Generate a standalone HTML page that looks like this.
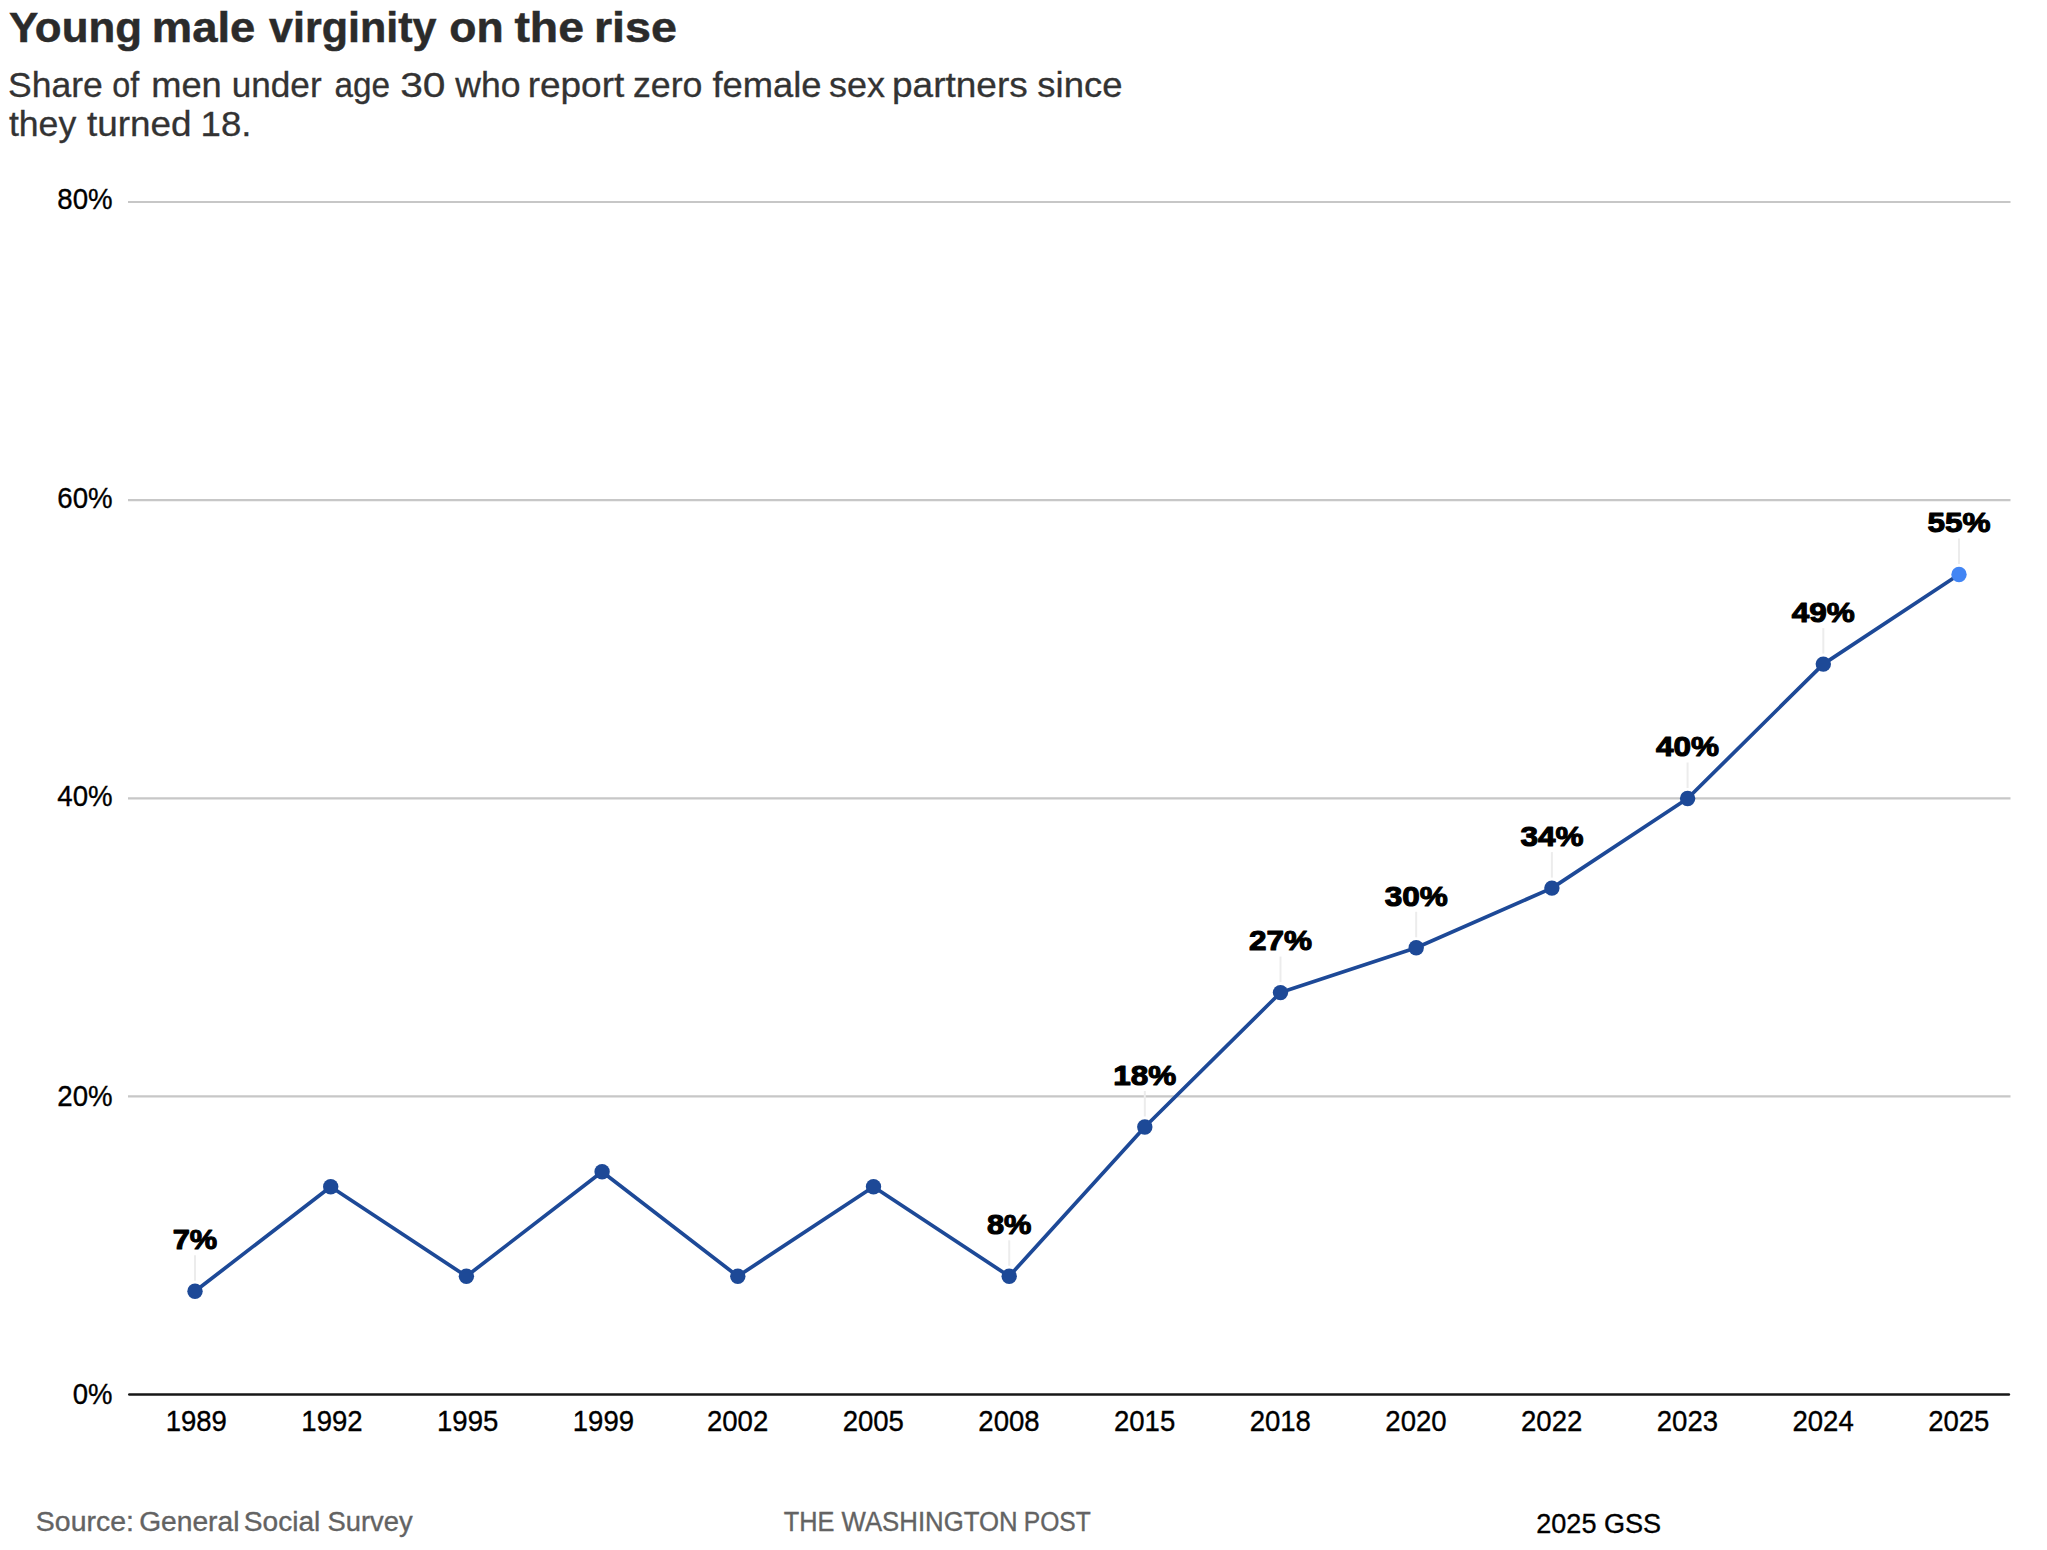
<!DOCTYPE html>
<html lang="en"><head><meta charset="utf-8"><title>Young male virginity on the rise</title>
<style>
html,body{margin:0;padding:0;background:#fff;}
body{width:2047px;height:1550px;overflow:hidden;font-family:"Liberation Sans",sans-serif;}
svg{display:block;position:absolute;left:0;top:0;}
text{font-family:"Liberation Sans",sans-serif;}
.title{font-weight:700;font-size:43px;fill:#2b2b2b;stroke:#2b2b2b;stroke-width:0.5px;}
.sub{font-size:35px;fill:#333;stroke:#333;stroke-width:0.3px;}
.ax{font-size:29.3px;fill:#000;stroke:#000;stroke-width:0.35px;}
.lab{font-weight:700;font-size:28.3px;fill:#000;stroke:#000;stroke-width:1.1px;stroke-linejoin:round;}
.foot{font-size:27px;fill:#636363;stroke:#636363;stroke-width:0.35px;}
</style></head><body>
<svg width="2047" height="1550" viewBox="0 0 2047 1550">
<rect width="2047" height="1550" fill="#fff"/>
<text class="title" y="41.9"><tspan x="8.90" textLength="133.06" lengthAdjust="spacingAndGlyphs">Young</tspan> <tspan x="151.88" textLength="103.50" lengthAdjust="spacingAndGlyphs">male</tspan> <tspan x="269.02" textLength="167.46" lengthAdjust="spacingAndGlyphs">virginity</tspan> <tspan x="449.28" textLength="54.40" lengthAdjust="spacingAndGlyphs">on</tspan> <tspan x="514.40" textLength="69.60" lengthAdjust="spacingAndGlyphs">the</tspan> <tspan x="593.98" textLength="83.02" lengthAdjust="spacingAndGlyphs">rise</tspan></text>
<text class="sub" y="97.4"><tspan x="8.00" textLength="94.78" lengthAdjust="spacingAndGlyphs">Share</tspan> <tspan x="112.28" textLength="26.98" lengthAdjust="spacingAndGlyphs">of</tspan> <tspan x="151.16" textLength="70.68" lengthAdjust="spacingAndGlyphs">men</tspan> <tspan x="231.72" textLength="89.88" lengthAdjust="spacingAndGlyphs">under</tspan> <tspan x="334.56" textLength="55.60" lengthAdjust="spacingAndGlyphs">age</tspan> <tspan x="400.16" textLength="45.34" lengthAdjust="spacingAndGlyphs">30</tspan> <tspan x="455.30" textLength="65.26" lengthAdjust="spacingAndGlyphs">who</tspan> <tspan x="527.66" textLength="96.60" lengthAdjust="spacingAndGlyphs">report</tspan> <tspan x="633.00" textLength="69.50" lengthAdjust="spacingAndGlyphs">zero</tspan> <tspan x="712.40" textLength="109.16" lengthAdjust="spacingAndGlyphs">female</tspan> <tspan x="829.00" textLength="55.94" lengthAdjust="spacingAndGlyphs">sex</tspan> <tspan x="892.04" textLength="135.68" lengthAdjust="spacingAndGlyphs">partners</tspan> <tspan x="1037.34" textLength="85.16" lengthAdjust="spacingAndGlyphs">since</tspan></text>
<text class="sub" y="135.8"><tspan x="8.90" textLength="67.36" lengthAdjust="spacingAndGlyphs">they</tspan> <tspan x="86.96" textLength="104.72" lengthAdjust="spacingAndGlyphs">turned</tspan> <tspan x="200.60" textLength="50.92" lengthAdjust="spacingAndGlyphs">18.</tspan></text>
<line x1="128" x2="2010.5" y1="202.00" y2="202.00" stroke="#c7c7c7" stroke-width="2.2"/>
<line x1="128" x2="2010.5" y1="500.15" y2="500.15" stroke="#c7c7c7" stroke-width="2.2"/>
<line x1="128" x2="2010.5" y1="798.30" y2="798.30" stroke="#c7c7c7" stroke-width="2.2"/>
<line x1="128" x2="2010.5" y1="1096.45" y2="1096.45" stroke="#c7c7c7" stroke-width="2.2"/>
<line x1="129.3" x2="2008.9" y1="1394.60" y2="1394.60" stroke="#171717" stroke-width="2.5" stroke-linecap="round"/>
<text class="ax" x="112.6" y="208.8" text-anchor="end" textLength="55.3" lengthAdjust="spacingAndGlyphs">80%</text>
<text class="ax" x="112.6" y="508.4" text-anchor="end" textLength="55.3" lengthAdjust="spacingAndGlyphs">60%</text>
<text class="ax" x="112.6" y="806.4" text-anchor="end" textLength="55.3" lengthAdjust="spacingAndGlyphs">40%</text>
<text class="ax" x="112.6" y="1105.6" text-anchor="end" textLength="55.3" lengthAdjust="spacingAndGlyphs">20%</text>
<text class="ax" x="112.6" y="1403.8" text-anchor="end" textLength="39.8" lengthAdjust="spacingAndGlyphs">0%</text>
<text class="ax" x="196.3" y="1431.4" text-anchor="middle" textLength="61.3" lengthAdjust="spacingAndGlyphs">1989</text>
<text class="ax" x="332.0" y="1431.4" text-anchor="middle" textLength="61.3" lengthAdjust="spacingAndGlyphs">1992</text>
<text class="ax" x="467.7" y="1431.4" text-anchor="middle" textLength="61.3" lengthAdjust="spacingAndGlyphs">1995</text>
<text class="ax" x="603.4" y="1431.4" text-anchor="middle" textLength="61.3" lengthAdjust="spacingAndGlyphs">1999</text>
<text class="ax" x="737.6" y="1431.4" text-anchor="middle" textLength="61.3" lengthAdjust="spacingAndGlyphs">2002</text>
<text class="ax" x="873.3" y="1431.4" text-anchor="middle" textLength="61.3" lengthAdjust="spacingAndGlyphs">2005</text>
<text class="ax" x="1009.0" y="1431.4" text-anchor="middle" textLength="61.3" lengthAdjust="spacingAndGlyphs">2008</text>
<text class="ax" x="1144.6" y="1431.4" text-anchor="middle" textLength="61.3" lengthAdjust="spacingAndGlyphs">2015</text>
<text class="ax" x="1280.3" y="1431.4" text-anchor="middle" textLength="61.3" lengthAdjust="spacingAndGlyphs">2018</text>
<text class="ax" x="1416.0" y="1431.4" text-anchor="middle" textLength="61.3" lengthAdjust="spacingAndGlyphs">2020</text>
<text class="ax" x="1551.7" y="1431.4" text-anchor="middle" textLength="61.3" lengthAdjust="spacingAndGlyphs">2022</text>
<text class="ax" x="1687.4" y="1431.4" text-anchor="middle" textLength="61.3" lengthAdjust="spacingAndGlyphs">2023</text>
<text class="ax" x="1823.1" y="1431.4" text-anchor="middle" textLength="61.3" lengthAdjust="spacingAndGlyphs">2024</text>
<text class="ax" x="1958.8" y="1431.4" text-anchor="middle" textLength="61.3" lengthAdjust="spacingAndGlyphs">2025</text>
<line x1="195.0" x2="195.0" y1="1255.3" y2="1280.8" stroke="#ececec" stroke-width="2"/>
<line x1="1009.2" x2="1009.2" y1="1240.3" y2="1265.8" stroke="#ececec" stroke-width="2"/>
<line x1="1144.8" x2="1144.8" y1="1091.0" y2="1116.5" stroke="#ececec" stroke-width="2"/>
<line x1="1280.5" x2="1280.5" y1="956.6" y2="982.1" stroke="#ececec" stroke-width="2"/>
<line x1="1416.2" x2="1416.2" y1="911.8" y2="937.3" stroke="#ececec" stroke-width="2"/>
<line x1="1551.9" x2="1551.9" y1="852.1" y2="877.6" stroke="#ececec" stroke-width="2"/>
<line x1="1687.6" x2="1687.6" y1="762.5" y2="788.0" stroke="#ececec" stroke-width="2"/>
<line x1="1823.3" x2="1823.3" y1="628.1" y2="653.6" stroke="#ececec" stroke-width="2"/>
<line x1="1959.0" x2="1959.0" y1="538.5" y2="564.0" stroke="#ececec" stroke-width="2"/>
<polyline points="195.0,1291.3 330.7,1186.7 466.4,1276.3 602.1,1171.8 737.8,1276.3 873.5,1186.7 1009.2,1276.3 1144.8,1127.0 1280.5,992.6 1416.2,947.8 1551.9,888.1 1687.6,798.5 1823.3,664.1 1959.0,574.5" fill="none" stroke="#1d4997" stroke-width="3.7" stroke-linejoin="round" stroke-linecap="round"/>
<circle cx="195.0" cy="1291.3" r="7.7" fill="#1d4997"/>
<circle cx="330.7" cy="1186.7" r="7.7" fill="#1d4997"/>
<circle cx="466.4" cy="1276.3" r="7.7" fill="#1d4997"/>
<circle cx="602.1" cy="1171.8" r="7.7" fill="#1d4997"/>
<circle cx="737.8" cy="1276.3" r="7.7" fill="#1d4997"/>
<circle cx="873.5" cy="1186.7" r="7.7" fill="#1d4997"/>
<circle cx="1009.2" cy="1276.3" r="7.7" fill="#1d4997"/>
<circle cx="1144.8" cy="1127.0" r="7.7" fill="#1d4997"/>
<circle cx="1280.5" cy="992.6" r="7.7" fill="#1d4997"/>
<circle cx="1416.2" cy="947.8" r="7.7" fill="#1d4997"/>
<circle cx="1551.9" cy="888.1" r="7.7" fill="#1d4997"/>
<circle cx="1687.6" cy="798.5" r="7.7" fill="#1d4997"/>
<circle cx="1823.3" cy="664.1" r="7.7" fill="#1d4997"/>
<circle cx="1959.0" cy="574.5" r="7.7" fill="#4285f4"/>
<text class="lab" x="195.0" y="1249.1" text-anchor="middle" textLength="44.5" lengthAdjust="spacingAndGlyphs">7%</text>
<text class="lab" x="1009.2" y="1234.1" text-anchor="middle" textLength="44.5" lengthAdjust="spacingAndGlyphs">8%</text>
<text class="lab" x="1144.8" y="1084.8" text-anchor="middle" textLength="63" lengthAdjust="spacingAndGlyphs">18%</text>
<text class="lab" x="1280.5" y="950.4" text-anchor="middle" textLength="63" lengthAdjust="spacingAndGlyphs">27%</text>
<text class="lab" x="1416.2" y="905.6" text-anchor="middle" textLength="63" lengthAdjust="spacingAndGlyphs">30%</text>
<text class="lab" x="1551.9" y="845.9" text-anchor="middle" textLength="63" lengthAdjust="spacingAndGlyphs">34%</text>
<text class="lab" x="1687.6" y="756.3" text-anchor="middle" textLength="63" lengthAdjust="spacingAndGlyphs">40%</text>
<text class="lab" x="1823.3" y="621.9" text-anchor="middle" textLength="63" lengthAdjust="spacingAndGlyphs">49%</text>
<text class="lab" x="1959.0" y="532.3" text-anchor="middle" textLength="63" lengthAdjust="spacingAndGlyphs">55%</text>
<text class="foot" y="1530.6"><tspan x="35.84" textLength="98.06" lengthAdjust="spacingAndGlyphs">Source:</tspan> <tspan x="139.16" textLength="100.24" lengthAdjust="spacingAndGlyphs">General</tspan> <tspan x="243.76" textLength="76.56" lengthAdjust="spacingAndGlyphs">Social</tspan> <tspan x="327.58" textLength="85.10" lengthAdjust="spacingAndGlyphs">Survey</tspan></text>
<text class="foot" y="1530.6"><tspan x="783.82" textLength="50.60" lengthAdjust="spacingAndGlyphs">THE</tspan> <tspan x="841.56" textLength="176.10" lengthAdjust="spacingAndGlyphs">WASHINGTON</tspan> <tspan x="1023.76" textLength="67.08" lengthAdjust="spacingAndGlyphs">POST</tspan></text>
<text class="ax" style="font-size:28.4px" x="1536.2" y="1533.3" textLength="125" lengthAdjust="spacingAndGlyphs">2025 GSS</text>
</svg>
</body></html>
